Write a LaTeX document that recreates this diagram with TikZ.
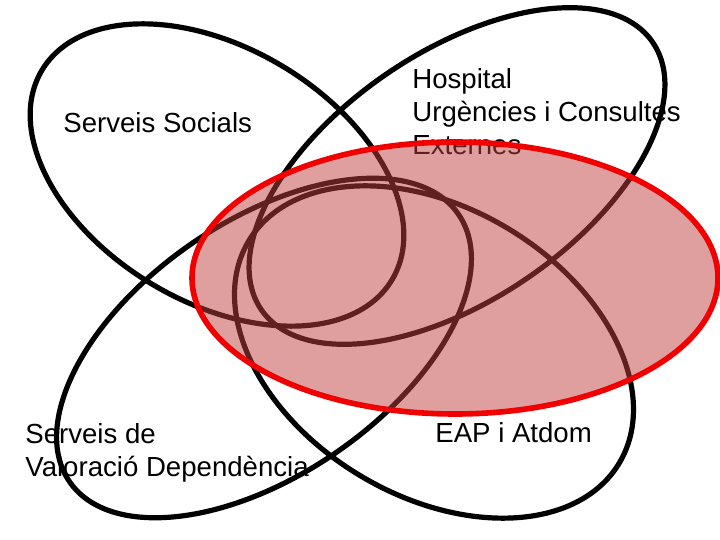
\documentclass[tikz,border=0pt]{standalone}
\usepackage{fontspec}
\setmainfont{Liberation Sans}
\usetikzlibrary{shapes.geometric}
\definecolor{redfill}{RGB}{192,64,64}
\definecolor{redline}{RGB}{240,0,0}
\begin{document}
\begin{tikzpicture}[x=0.5pt,y=-0.5pt,
  loop/.style={draw=black,line width=2.6pt,ellipse,inner sep=0pt},
  lbl/.style={inner sep=0pt,anchor=base west,align=left,font=\fontsize{13.8}{16.5}\selectfont},
  hilite/.style={draw=redline,line width=2.8pt,fill=redfill,fill opacity=0.5,ellipse,inner sep=0pt}]
\useasboundingbox (0,0) rectangle (720,540);
\node[loop,minimum width=204pt,minimum height=127pt,rotate=-30.9] (socials) at (217,175) {};
\node[loop,minimum width=237pt,minimum height=124pt,rotate=34.3] (hospital) at (457,176) {};
\node[loop,minimum width=236pt,minimum height=127pt,rotate=34.5] (valoracio) at (264,348) {};
\node[loop,minimum width=216pt,minimum height=144pt,rotate=-31] (eapshape) at (434,352) {};
\node[lbl] (ss) at (63,133) {Serveis Socials};
\node[lbl] (hosp) at (412,155) {Hospital\\Urgències i Consultes\\Externes};
\node[lbl] (svd) at (25,477) {Serveis de\\Valoració Dependència};
\node[lbl] (eap) at (435,443) {EAP i Atdom};
\node[hilite,minimum width=263pt,minimum height=136pt] (red) at (455,278) {};
\end{tikzpicture}
\end{document}
